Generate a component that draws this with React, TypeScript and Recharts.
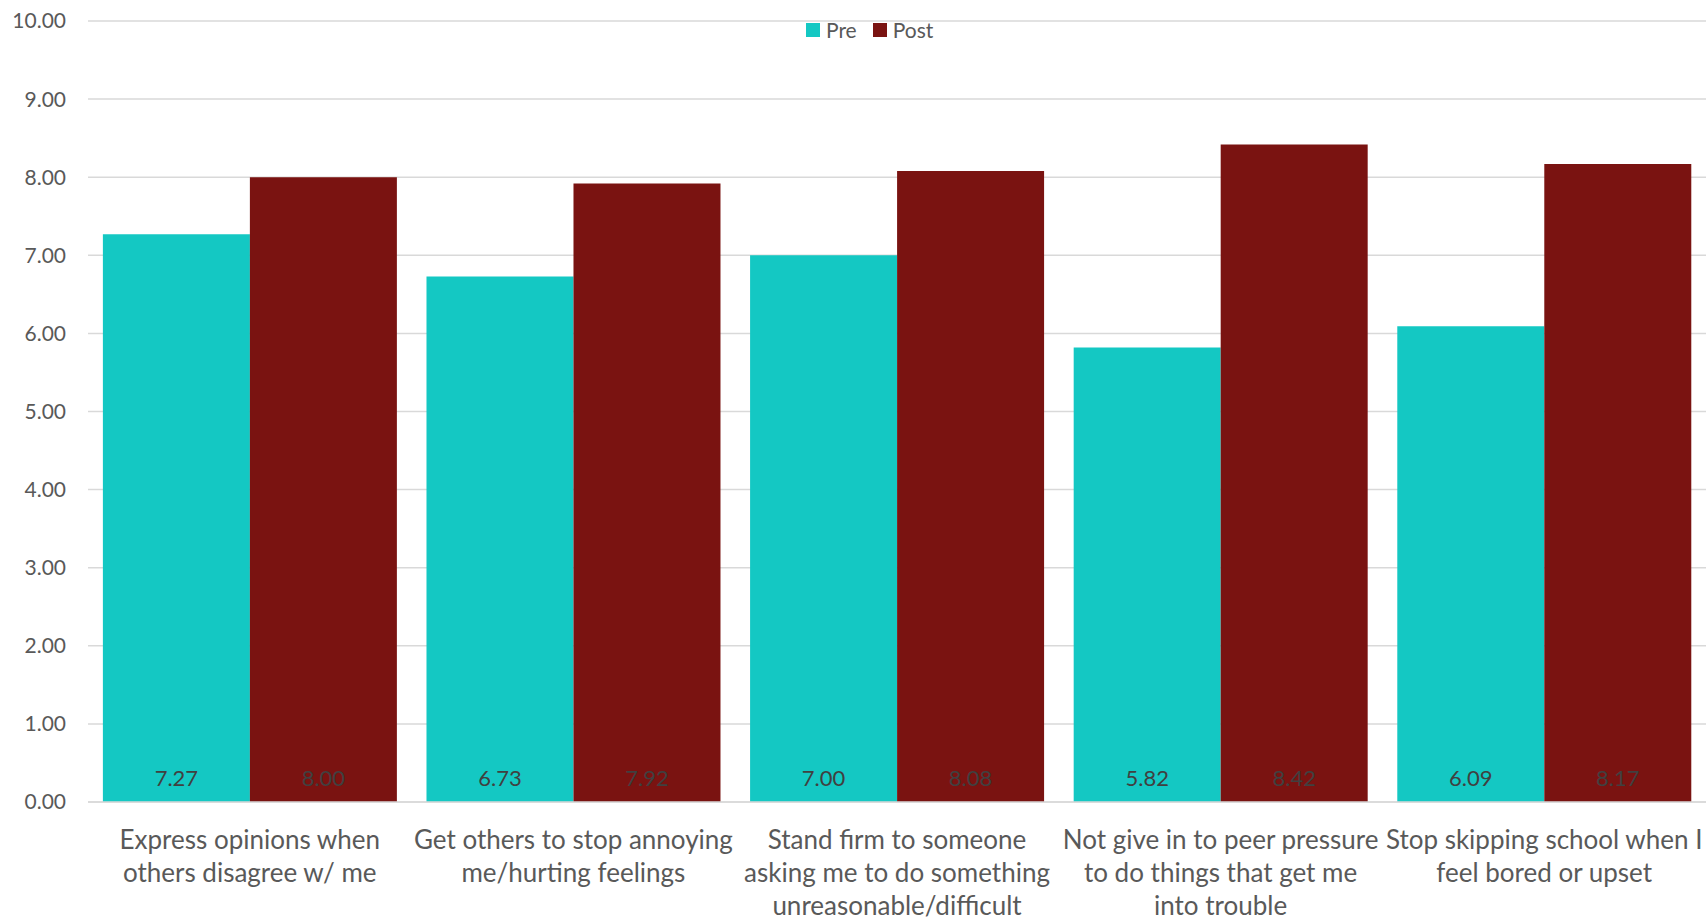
import React from 'react';
import { BarChart, Bar, XAxis, YAxis, CartesianGrid, LabelList } from 'recharts';

const categories = [
  'Express opinions when\nothers disagree w/ me',
  'Get others to stop annoying\nme/hurting feelings',
  'Stand firm to someone\nasking me to do something\nunreasonable/difficult',
  'Not give in to peer pressure\nto do things that get me\ninto trouble',
  'Stop skipping school when I\nfeel bored or upset',
];
const preValues = [7.27, 6.73, 7.0, 5.82, 6.09];
const postValues = [8.0, 7.92, 8.08, 8.42, 8.17];
const yTicks = [0, 1, 2, 3, 4, 5, 6, 7, 8, 9, 10];

const series = [
  { key: 'pre', name: 'Pre', color: '#14C8C3' },
  { key: 'post', name: 'Post', color: '#7A1311' },
];

const data = categories.map((name, i) => ({ name, pre: preValues[i], post: postValues[i] }));

const FONT = 'Lato, "Open Sans", sans-serif';

const XTick = (props: any) => {
  const { x, y, payload } = props;
  const lines = String(payload.value).split('\n');
  return (
    <text x={x} y={y + 39} textAnchor="middle" fill="#595959" fontSize={26} fontFamily={FONT}>
      {lines.map((l, i) => (
        <tspan key={i} x={x} dy={i === 0 ? 0 : 33}>
          {l}
        </tspan>
      ))}
    </text>
  );
};

const ValueLabel = (props: any) => {
  const { x, y, width, height, value } = props;
  return (
    <text
      x={x + width / 2}
      y={y + height - 16}
      textAnchor="middle"
      fill="#404040"
      fontSize={22}
      fontFamily={FONT}
    >
      {Number(value).toFixed(2)}
    </text>
  );
};

const App: React.FC = () => {
  return (
    <div style={{ position: 'absolute', left: 0, top: 0, width: 1706, height: 921, background: '#fff' }}>
      <BarChart
        width={1706}
        height={921}
        data={data}
        margin={{ top: 21, right: 0, left: 0, bottom: 0 }}
        barCategoryGap="4.6%"
        barGap={0}
      >
        <CartesianGrid vertical={false} stroke="#d9d9d9" strokeWidth={1.5} />
        <XAxis
          dataKey="name"
          height={119}
          interval={0}
          tickLine={false}
          axisLine={{ stroke: '#d9d9d9', strokeWidth: 1.5 }}
          tick={<XTick />}
        />
        <YAxis
          width={88}
          domain={[0, 10]}
          ticks={yTicks}
          tickFormatter={(v: number) => v.toFixed(2)}
          axisLine={false}
          tickLine={false}
          tickMargin={16}
          tick={{ fill: '#595959', fontSize: 21, fontFamily: FONT }}
        />
        {series.map((s) => (
          <Bar key={s.key} dataKey={s.key} name={s.name} fill={s.color} isAnimationActive={false}>
            <LabelList dataKey={s.key} content={<ValueLabel />} />
          </Bar>
        ))}
      </BarChart>
      <div
        style={{
          position: 'absolute',
          top: 17,
          left: 806,
          display: 'flex',
          alignItems: 'center',
          fontFamily: FONT,
          fontSize: 21,
          color: '#595959',
          lineHeight: '26px',
        }}
      >
        {series.map((s) => (
          <div key={s.key} style={{ display: 'flex', alignItems: 'center', marginRight: 16 }}>
            <span style={{ width: 14, height: 14, background: s.color, display: 'inline-block', marginRight: 6 }} />
            <span>{s.name}</span>
          </div>
        ))}
      </div>
    </div>
  );
};

export default App;
